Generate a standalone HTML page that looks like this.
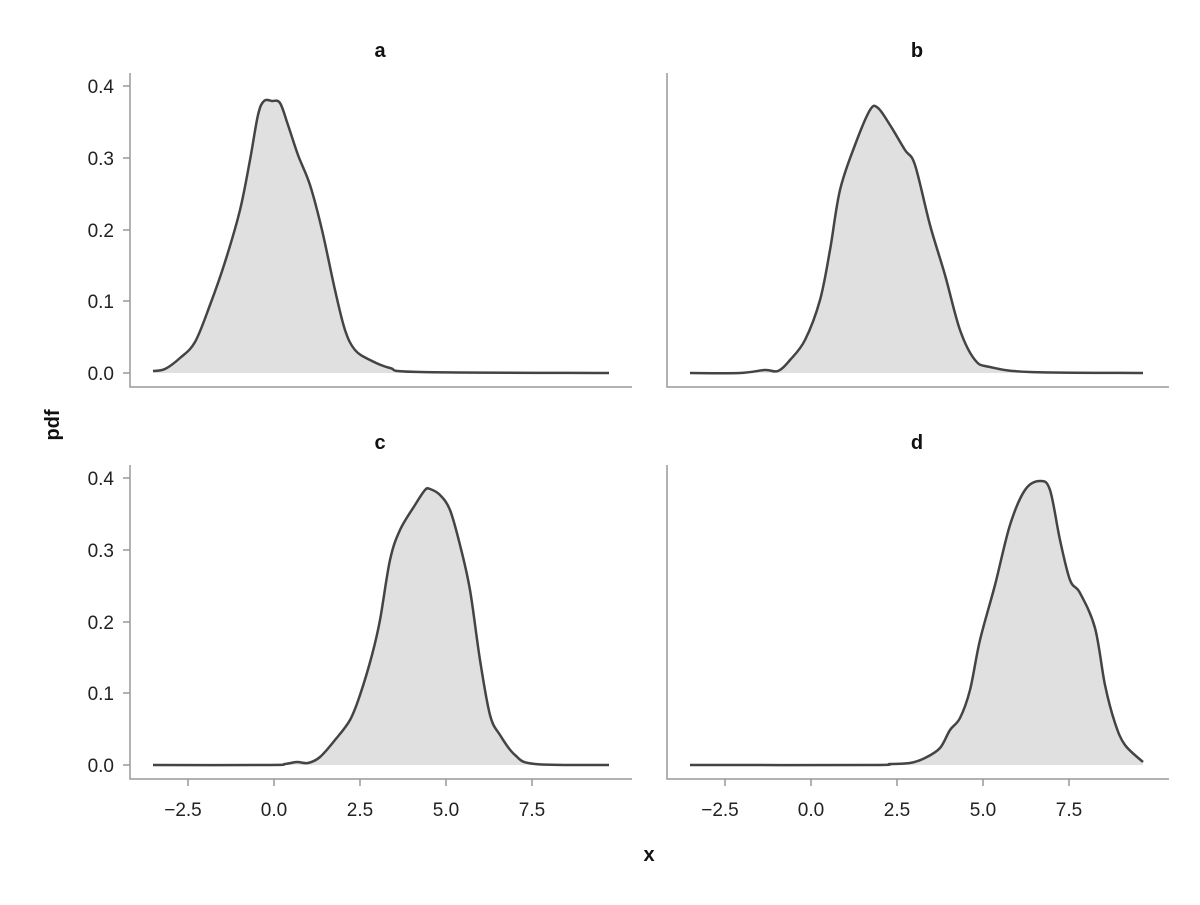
<!DOCTYPE html>
<html><head><style>body{margin:0;background:#fff}svg text{font-family:"Liberation Sans",sans-serif}</style></head><body>
<svg id="s" width="1200" height="900" xmlns="http://www.w3.org/2000/svg">
<g id="curves" fill="#e0e0e0" stroke="#444" stroke-width="2.5" stroke-linejoin="round"></g>
<g stroke="#999" stroke-width="1.5" fill="none">
<path d="M130,73 V387 H632 M667,73 V387 H1169 M130,465 V779 H632 M667,465 V779 H1169"/>
<path d="M123,373 H130 M123,301 H130 M123,230 H130 M123,158 H130 M123,86 H130"/>
<path d="M123,765 H130 M123,693 H130 M123,622 H130 M123,550 H130 M123,478 H130"/>
<path d="M188,779 V786 M274,779 V786 M360,779 V786 M446,779 V786 M532,779 V786"/>
<path d="M725,779 V786 M811,779 V786 M897,779 V786 M983,779 V786 M1069,779 V786"/>
</g>
<g font-size="19" fill="#222" text-anchor="end">
<text x="114" y="380">0.0</text><text x="114" y="308">0.1</text><text x="114" y="237">0.2</text><text x="114" y="165">0.3</text><text x="114" y="93">0.4</text>
<text x="114" y="772">0.0</text><text x="114" y="700">0.1</text><text x="114" y="629">0.2</text><text x="114" y="557">0.3</text><text x="114" y="485">0.4</text>
</g>
<g font-size="19" fill="#222" text-anchor="middle">
<text x="183" y="816">−2.5</text><text x="274" y="816">0.0</text><text x="360" y="816">2.5</text><text x="446" y="816">5.0</text><text x="532" y="816">7.5</text>
<text x="720" y="816">−2.5</text><text x="811" y="816">0.0</text><text x="897" y="816">2.5</text><text x="983" y="816">5.0</text><text x="1069" y="816">7.5</text>
</g>
<g font-size="20" font-weight="bold" fill="#111" text-anchor="middle">
<text x="380" y="57">a</text><text x="917" y="57">b</text><text x="380" y="449">c</text><text x="917" y="449">d</text>
<text x="649" y="861">x</text>
<text transform="translate(59,425) rotate(-90)">pdf</text>
</g>
</svg>
<script>
var data=[
[373,[153,371,165,369,180,358,195,342,210,305,225,262,240,210,250,160,258,115,264,101,272,101,280,103,288,125,298,155,310,185,322,230,335,290,345,330,355,350,370,360,390,368,420,372,609,373]],
[373,[690,373,740,373,765,370,778,371,790,360,805,340,820,300,830,250,840,190,855,145,870,110,878,108,890,125,905,150,915,165,930,225,945,275,960,330,975,360,990,367,1030,372,1143,373]],
[765,[153,765,270,765,285,764,297,762,308,763,320,757,335,740,350,720,360,695,372,655,380,620,390,560,400,530,415,505,425,490,430,489,440,495,450,510,460,545,470,590,480,660,490,715,500,735,515,755,535,764,609,765]],
[765,[690,765,870,765,890,764,910,763,925,758,940,748,950,730,960,718,970,690,980,640,995,585,1010,525,1025,490,1040,481,1050,490,1060,540,1070,580,1080,593,1095,628,1105,685,1115,723,1125,745,1143,762]]];
var g=document.getElementById('curves');
data.forEach(function(d){var base=d[0],a=d[1],p=[];for(var i=0;i<a.length;i+=2)p.push([a[i],a[i+1]]);
var s='M'+p[0][0]+','+p[0][1];
for(var i=0;i<p.length-1;i++){var p0=p[Math.max(0,i-1)],p1=p[i],p2=p[i+1],p3=p[Math.min(p.length-1,i+2)];
s+=' C'+(p1[0]+(p2[0]-p0[0])/6)+','+(p1[1]+(p2[1]-p0[1])/6)+' '+(p2[0]-(p3[0]-p1[0])/6)+','+(p2[1]-(p3[1]-p1[1])/6)+' '+p2[0]+','+p2[1];}
var f=document.createElementNS('http://www.w3.org/2000/svg','path');
f.setAttribute('d',s+' L'+p[p.length-1][0]+','+base+' L'+p[0][0]+','+base+' Z');f.setAttribute('stroke','none');g.appendChild(f);
var l=document.createElementNS('http://www.w3.org/2000/svg','path');l.setAttribute('d',s);l.setAttribute('fill','none');g.appendChild(l);});
</script>
</body></html>
